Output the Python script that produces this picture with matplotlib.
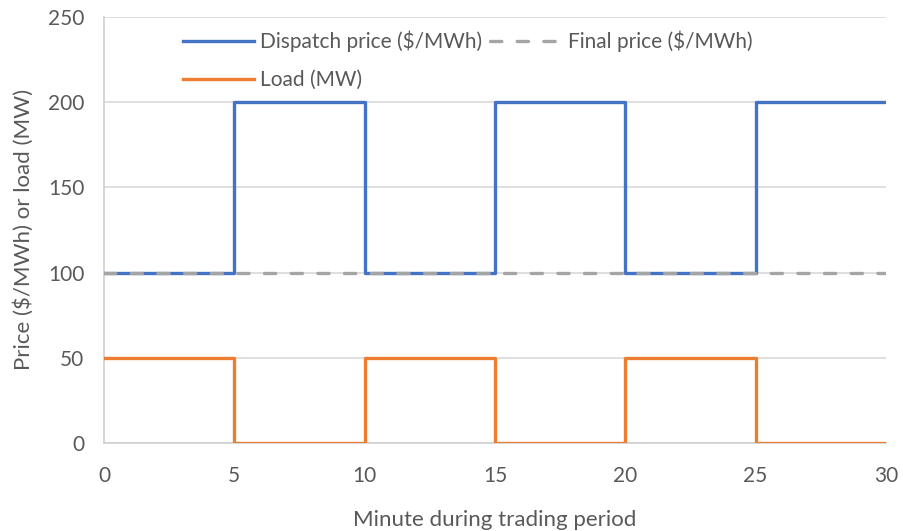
import matplotlib
matplotlib.use("Agg")
import matplotlib.pyplot as plt

plt.rcParams['font.family'] = ['Lato', 'DejaVu Sans']

# Five-minute dispatch intervals across a 30-minute trading period
minutes = [0, 5, 10, 15, 20, 25, 30]
dispatch_price = [100, 200, 100, 200, 100, 200, 200]
final_price = [100, 100, 100, 100, 100, 100, 100]
load_mw = [50, 0, 50, 0, 50, 0, 0]

x_ticks = [0, 5, 10, 15, 20, 25, 30]
y_ticks = [0, 50, 100, 150, 200, 250]

fig = plt.figure(figsize=(9.04, 5.31), dpi=100)
ax = fig.add_axes([0.115, 0.166, 0.865, 0.802])

blue = '#4472C4'
orange = '#ED7D31'
gray = '#A5A5A5'
lw = 2.4

h_disp, = ax.step(minutes, dispatch_price, where='post', color=blue, lw=lw,
                  label='Dispatch price ($/MWh)', zorder=3)
h_load, = ax.step(minutes, load_mw, where='post', color=orange, lw=lw,
                  label='Load (MW)', zorder=3)
h_final, = ax.step(minutes, final_price, where='post', color=gray, lw=lw,
                   ls=(0, (3.4, 4.6)), dash_capstyle='round',
                   label='Final price ($/MWh)', zorder=4)

ax.set_xlim(0, 30)
ax.set_ylim(0, 250)
ax.set_xticks(x_ticks)
ax.set_yticks(y_ticks)
ax.yaxis.grid(True, color='#D9D9D9', lw=1.2)
ax.set_axisbelow(True)
for side in ('top', 'right'):
    ax.spines[side].set_visible(False)
for side in ('left', 'bottom'):
    ax.spines[side].set_color('#D0D0D0')
    ax.spines[side].set_linewidth(1.2)
ax.tick_params(axis='x', length=0, labelsize=15, colors='#595959', pad=17)
ax.tick_params(axis='y', length=0, labelsize=15, colors='#595959', pad=14)

ax.set_xlabel('Minute during trading period', fontsize=16, color='#595959', labelpad=17)
ax.set_ylabel('Price ($/MWh) or load (MW)', fontsize=16, color='#595959', labelpad=10)

leg = ax.legend([h_disp, h_load, h_final],
                ['Dispatch price ($/MWh)', 'Load (MW)', 'Final price ($/MWh)'],
                ncol=2, frameon=False, loc='upper left', bbox_to_anchor=(0.077, 1.012),
                fontsize=15, handlelength=3.4, handletextpad=0.3,
                columnspacing=0.4, labelspacing=0.85)
for t in leg.get_texts():
    t.set_color('#595959')

fig.savefig('out.png', dpi=100)
